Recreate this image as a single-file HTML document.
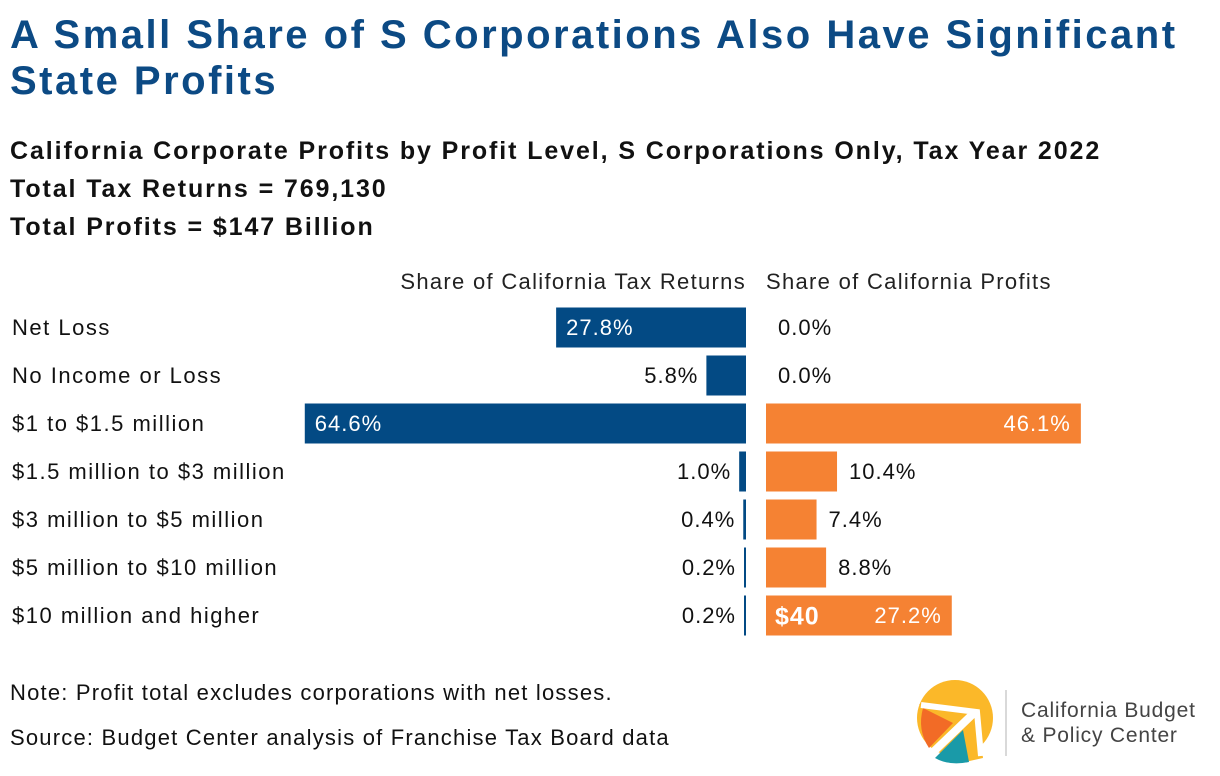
<!DOCTYPE html>
<html><head><meta charset="utf-8"><style>
body{margin:0;width:1220px;height:776px;background:#fff;font-family:"Liberation Sans",sans-serif;position:relative;overflow:hidden}
.t{position:absolute;white-space:nowrap}
</style></head><body>
<div class="t" style="left:10px;top:12px;font-size:40px;letter-spacing:2.5px;font-weight:bold;color:#0c4a84;line-height:46px">A Small Share of S Corporations Also Have Significant<br>State Profits</div>
<div class="t" style="left:10px;top:132px;font-size:25px;letter-spacing:1.9px;font-weight:bold;color:#111;line-height:38px">California Corporate Profits by Profit Level, S Corporations Only, Tax Year 2022<br>Total Tax Returns = 769,130<br>Total Profits = $147 Billion</div>
<svg id="chart" width="1220" height="776" style="position:absolute;left:0;top:0" font-family="Liberation Sans, sans-serif"></svg>
<div class="t" style="left:10px;top:680px;font-size:22px;letter-spacing:1.2px;color:#111">Note: Profit total excludes corporations with net losses.</div>
<div class="t" style="left:10px;top:725px;font-size:22px;letter-spacing:1.2px;color:#111">Source: Budget Center analysis of Franchise Tax Board data</div>
<svg width="310" height="90" style="position:absolute;left:905px;top:678px">
<circle cx="50" cy="40" r="38" fill="#fbb829"/>
<path d="M14 26 L72 32 L78 80 L60 84 Z" fill="#fbb829"/>
<path d="M18 30 L48 45 L24 70 Q12 52 18 30Z" fill="#f26b26"/>
<path d="M30 80 L58 52 L64 84 Q44 88 30 80Z" fill="#1a9aa8"/>
<path d="M16 27 L72 34 L76 78" stroke="#fff" stroke-width="6" fill="none"/>
<line x1="24" y1="78" x2="70" y2="34" stroke="#fff" stroke-width="8"/>
<line x1="101" y1="12" x2="101" y2="78" stroke="#ccc" stroke-width="1.5"/>
<text x="116" y="39" font-size="21" letter-spacing="0.8" fill="#444">California Budget</text>
<text x="116" y="64" font-size="21" letter-spacing="0.8" fill="#444">&amp; Policy Center</text>
</svg>
<script>
const categories=["Net Loss","No Income or Loss","$1 to $1.5 million","$1.5 million to $3 million","$3 million to $5 million","$5 million to $10 million","$10 million and higher"];
const returnsShare=[27.8,5.8,64.6,1.0,0.4,0.2,0.2];
const profitsShare=[0.0,0.0,46.1,10.4,7.4,8.8,27.2];
const svg=document.getElementById('chart');
const NS='http://www.w3.org/2000/svg';
const scale=6.83, zeroL=746, zeroR=766, rowTop=307.5, rowStep=48, barH=40;
const xL=v=>zeroL-v*scale, xR=v=>zeroR+v*scale, yRow=i=>rowTop+i*rowStep;
function mk(tag,a,txt){const e=document.createElementNS(NS,tag);for(const k in a)e.setAttribute(k,a[k]);if(txt!==undefined)e.textContent=txt;svg.appendChild(e);return e;}
let h=mk('text',{x:zeroL,y:289,'text-anchor':'end','font-size':22,'letter-spacing':1.3,fill:'#222'},'Share of California Tax Returns');


h=mk('text',{x:zeroR,y:289,'font-size':22,'letter-spacing':1.3,fill:'#222'},'Share of California Profits');


categories.forEach((c,i)=>{
 const y=yRow(i), cy=y+barH/2+7.5;
 let e=mk('text',{x:12,y:cy,'font-size':22,'letter-spacing':1.5,fill:'#111'},c);
 
 
 const rv=returnsShare[i], lw=Math.max(zeroL-xL(rv),2);
 e=mk('rect',{x:zeroL-lw,y:y,width:lw,height:barH,fill:'#034a84'});
 
 
 const inL=rv>15;
 e=mk('text',{x:inL?zeroL-lw+10:zeroL-lw-8,y:cy,'text-anchor':inL?'start':'end','font-size':22,'letter-spacing':1,fill:inL?'#fff':'#111'},rv.toFixed(1)+'%');
 
 
 const pv=profitsShare[i], pw=xR(pv)-zeroR;
 if(pw>0){e=mk('rect',{x:zeroR,y:y,width:pw,height:barH,fill:'#f58233'});
 
 }
 const inR=pv>20;
 e=mk('text',{x:inR?xR(pv)-10:xR(pv)+12,y:cy,'text-anchor':inR?'end':'start','font-size':22,'letter-spacing':1,fill:inR?'#fff':'#111'},pv.toFixed(1)+'%');
 
 
});
const t=mk('text',{x:775,y:yRow(6)+barH/2+9,'font-size':25,'font-weight':'bold','letter-spacing':1,fill:'#fff'},'$40');


</script>
</body></html>
